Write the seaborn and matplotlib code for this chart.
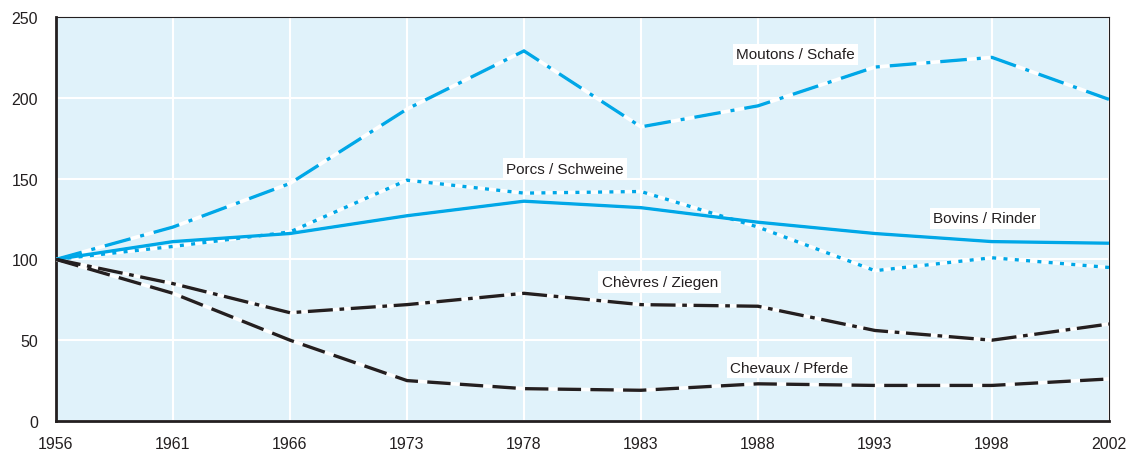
import numpy as np
import pandas as pd
import matplotlib
matplotlib.use("Agg")
import matplotlib.pyplot as plt
import seaborn as sns

# ── Data (index 1956 = 100) ────────────────────────────────────────────────
years    = ["1956", "1961", "1966", "1973", "1978", "1983", "1988", "1993", "1998", "2002"]
moutons  = [100, 120, 147, 193, 229, 182, 195, 219, 225, 199]
porcs    = [100, 108, 117, 149, 141, 142, 120, 93, 101, 95]
bovins   = [100, 111, 116, 127, 136, 132, 123, 116, 111, 110]
chevres  = [100, 85, 67, 72, 79, 72, 71, 56, 50, 60]
chevaux  = [100, 79, 50, 25, 20, 19, 23, 22, 22, 26]

labels   = ["Moutons / Schafe", "Porcs / Schweine", "Bovins / Rinder",
            "Chèvres / Ziegen", "Chevaux / Pferde"]

BLUE  = "#00a7e7"
BLACK = "#231f20"
BG    = "#e0f2fa"

styles = {
    "Moutons / Schafe": (BLUE,  (0, (8, 3, 1.2, 3))),
    "Porcs / Schweine": (BLUE,  (0, (1.2, 2.2))),
    "Bovins / Rinder":  (BLUE,  "-"),
    "Chèvres / Ziegen": (BLACK, (0, (7.5, 2, 1.4, 2))),
    "Chevaux / Pferde": (BLACK, (0, (7, 2.8))),
}

# label anchor (category position, value)
label_pos = {
    "Moutons / Schafe": (6.32, 227),
    "Porcs / Schweine": (4.35, 156),
    "Bovins / Rinder":  (7.94, 125.5),
    "Chèvres / Ziegen": (5.16, 86),
    "Chevaux / Pferde": (6.27, 33),
}

series = [moutons, porcs, bovins, chevres, chevaux]
df = pd.DataFrame({
    "pos":    np.tile(np.arange(len(years)), len(labels)),
    "value":  np.concatenate(series),
    "animal": np.repeat(labels, len(years)),
})

sns.set_style("white")
plt.rcParams["font.family"] = ["Liberation Sans", "DejaVu Sans"]

fig = plt.figure(figsize=(11.31, 4.56), dpi=100)
ax = fig.add_axes([0.0495, 0.0746, 0.931, 0.886])
ax.set_facecolor(BG)

for name in labels:
    color, ls = styles[name]
    sub = df[df["animal"] == name]
    # white under-stroke so the gaps in the dashes read white
    sns.lineplot(data=sub, x="pos", y="value", ax=ax, color="white",
                 linewidth=2.6, linestyle="-", zorder=3)
    sns.lineplot(data=sub, x="pos", y="value", ax=ax, color=color,
                 linewidth=2.4, linestyle=ls, zorder=4)

for line in ax.get_lines():
    line.set_solid_capstyle("butt")
    line.set_dash_capstyle("butt")

for name in labels:
    x, y = label_pos[name]
    ax.text(x, y, name, ha="center", va="center", fontsize=11, color=BLACK,
            zorder=5, bbox=dict(facecolor="white", edgecolor="none", pad=2.5))

ax.set_xlim(0, len(years) - 1)
ax.set_ylim(0, 250)
ax.set_xticks(np.arange(len(years)))
ax.set_xticklabels(years)
ax.set_yticks(np.arange(0, 251, 50))
ax.tick_params(axis="both", length=0, labelsize=11.5, colors=BLACK)
ax.tick_params(axis="y", pad=13)
ax.tick_params(axis="x", pad=11)
ax.grid(True, color="white", linewidth=1.5, zorder=1)
ax.set_axisbelow(True)
ax.set_xlabel("")
ax.set_ylabel("")

for side in ["left", "bottom"]:
    ax.spines[side].set_color(BLACK)
    ax.spines[side].set_linewidth(2)
for side in ["right", "top"]:
    ax.spines[side].set_color(BLACK)
    ax.spines[side].set_linewidth(0.8)

fig.savefig("out.png", dpi=100, facecolor="white")
